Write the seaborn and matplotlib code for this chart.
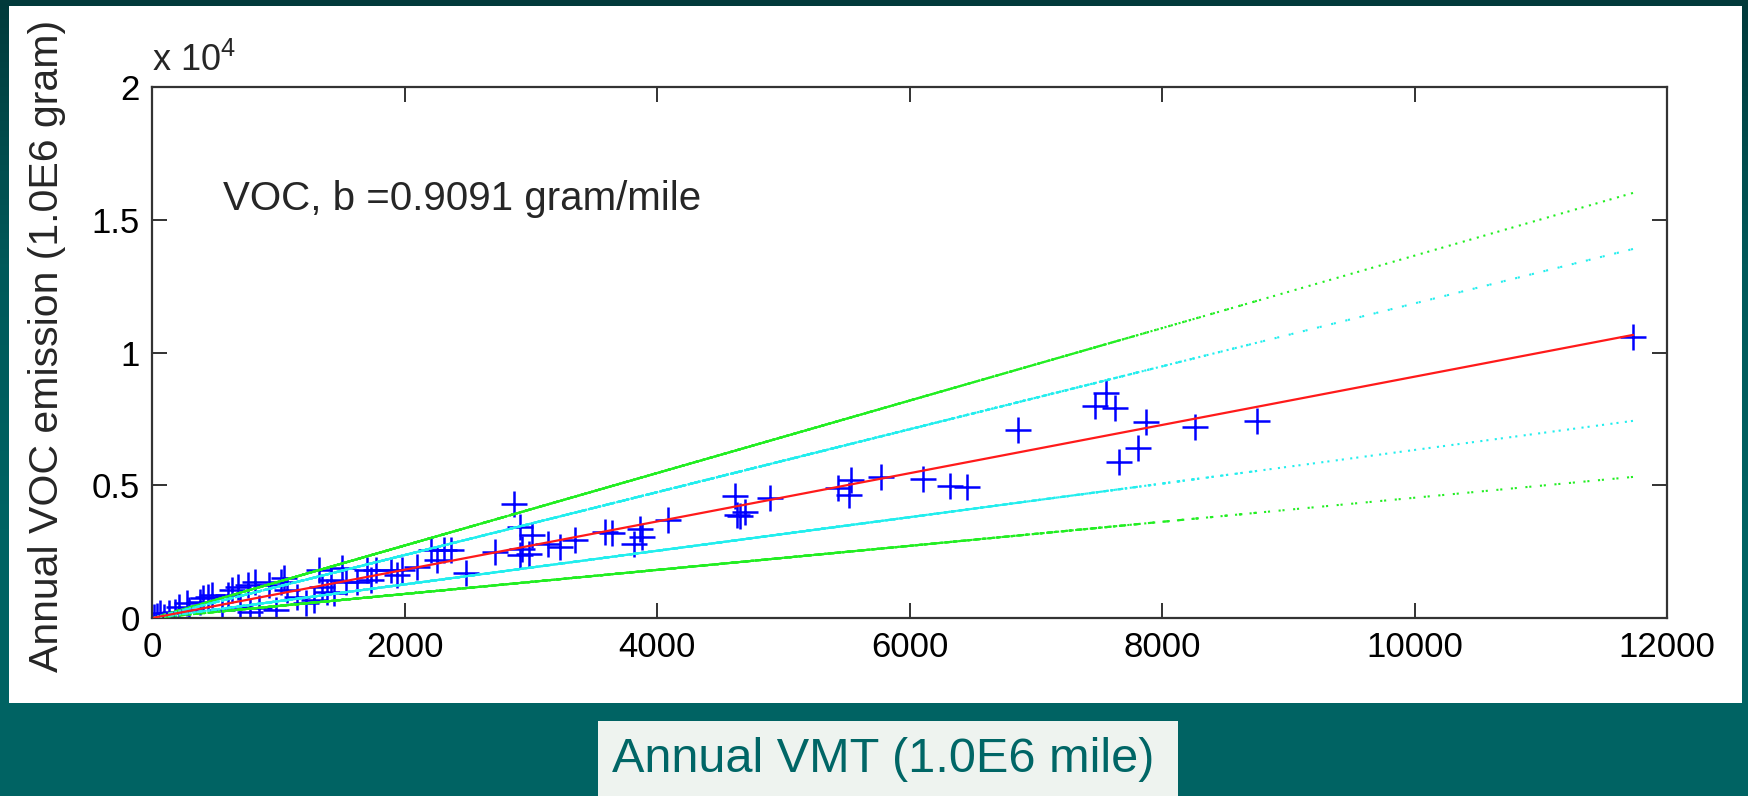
import numpy as np
import matplotlib
matplotlib.use('Agg')
import matplotlib.pyplot as plt
from matplotlib.collections import LineCollection
from matplotlib.colors import LinearSegmentedColormap
from matplotlib.patches import Rectangle
import seaborn as sns

# --- DATA (kept in the original plotting order) ---
vmt = [15, 1150, 2718, 4083, 5537,
       40, 1216, 2863, 4621, 5431,
       63, 1282, 2916, 4634, 5524,
       95, 1322, 2929, 4700, 5770,
       137, 1349, 2982, 4660, 6105,
       182, 1388, 3009, 4898, 6322,
       216, 1414, 2916, 6456,
       274, 1441, 3139, 6858,
       294, 1507, 3234, 7471,
       381, 1533, 3353, 7558,
       407, 1626, 3591, 7631,
       446, 1705, 3644, 7658, 11730,
       472, 1731, 3815, 7808,
       552, 1771, 3868, 7875,
       605, 1890, 3881, 8257,
       631, 1943, 8751,
       684, 1983,
       697, 2102,
       763, 2207,
       816, 2260,
       779, 2313,
       845, 2366,
       925, 2490,
       978, 1018, 1044, 1070]
voc = [30, 800, 2500, 3700, 5200,
       80, 560, 4310, 4580, 4890,
       190, 680, 3430, 3880, 4640,
       40, 1810, 2610, 4010, 5300,
       180, 1180, 2420, 3860, 5230,
       240, 990, 3110, 4520, 4980,
       420, 1430, 2360, 4920,
       550, 930, 2800, 7090,
       300, 1870, 2670, 8000,
       610, 1370, 2940, 8470,
       740, 1370, 3250, 7910,
       800, 1810, 3190, 5860, 10570,
       870, 1430, 2800, 6400,
       300, 1810, 3360, 7370,
       870, 1810, 3050, 7210,
       1050, 1620, 7430,
       1180, 1810,
       420, 1940,
       1240, 2550,
       1370, 2170,
       240, 2550,
       360, 2550,
       1240, 1690,
       300, 1370, 1490, 1060]

fit_slope = 0.9091      # gram/mile
band_inner = 0.276      # cyan band half-width (slope units)
band_outer = 0.456      # green band half-width (slope units)

x_ticks = [0, 2000, 4000, 6000, 8000, 10000, 12000]
y_ticks = [0, 5000, 10000, 15000, 20000]
y_tick_labels = ['0', '0.5', '1', '1.5', '2']

# --- STYLE ---
sns.set_theme(style='white')
plt.rcParams['font.family'] = ['Liberation Sans', 'DejaVu Sans']
plt.rcParams['mathtext.default'] = 'regular'

fig = plt.figure(figsize=(17.48, 7.96), dpi=100)

# slide background (dark teal gradient)
bg = fig.add_axes([0, 0, 1, 1], zorder=-10)
grad = np.linspace(0, 1, 256).reshape(-1, 1)
cmap = LinearSegmentedColormap.from_list('teal', ['#023a3b', '#01595a', '#006363', '#006363'])
bg.imshow(grad, aspect='auto', cmap=cmap, extent=[0, 1, 0, 1], origin='upper')
bg.axis('off')

# white picture panel
fig.add_artist(Rectangle((0.0052, 0.1168), 0.9914, 0.8757, transform=fig.transFigure,
                         facecolor='white', edgecolor='none', zorder=-5))

ax = fig.add_axes([0.087, 0.2236, 0.8667, 0.667])
ax.set_facecolor('white')

sns.scatterplot(x=vmt, y=voc, marker='+', s=340, color='#0000ff', linewidth=1.8,
                ax=ax, zorder=2, legend=False)

# bands drawn through the data in its own order (dotted segments overlap into solid)
def band(slope, color):
    pts = [(v, slope * v) for v in vmt]
    segs = [[pts[i], pts[i + 1]] for i in range(len(pts) - 1)]
    lc = LineCollection(segs, colors=color, linewidths=1.5,
                        linestyles=[(0, (1, 6))], zorder=3)
    ax.add_collection(lc)

band(fit_slope + band_outer, '#22ee22')
band(fit_slope - band_outer, '#22ee22')
band(fit_slope + band_inner, '#22eeee')
band(fit_slope - band_inner, '#22eeee')

sns.lineplot(x=vmt, y=[fit_slope * v for v in vmt], sort=True, estimator=None,
             color='#ff1a1a', linewidth=1.6, ax=ax, zorder=4)

ax.set_xlim(0, 12000)
ax.set_ylim(0, 20000)
ax.set_xticks(x_ticks)
ax.set_xticklabels([str(t) for t in x_ticks])
ax.set_yticks(y_ticks)
ax.set_yticklabels(y_tick_labels)
ax.tick_params(direction='in', length=11, width=1.3, labelsize=25, pad=9,
               top=True, right=True, bottom=True, left=True, colors='#222222',
               labelcolor='black')
for s in ax.spines.values():
    s.set_color('#333333')
    s.set_linewidth(1.6)
ax.set_xlabel('')
ax.set_ylabel('')

ax.text(0.0, 1.016, r'x 10$^4$', transform=ax.transAxes, fontsize=26,
        ha='left', va='bottom')
ax.text(0.047, 0.79, f'VOC, b ={fit_slope} gram/mile', transform=ax.transAxes,
        fontsize=29, ha='left', va='center')

fig.text(0.027, 0.566, 'Annual VOC emission (1.0E6 gram)', rotation=90,
         fontsize=29.5, ha='center', va='center')

# x-axis label box at the bottom of the slide
fig.add_artist(Rectangle((0.342, 0.0), 0.332, 0.0942, transform=fig.transFigure,
                         facecolor='#eef3ef', edgecolor='none', zorder=1))
fig.text(0.505, 0.046, 'Annual VMT (1.0E6 mile)', fontsize=35, color='#006666',
         ha='center', va='center', zorder=2)

fig.savefig('out.png', dpi=100)
